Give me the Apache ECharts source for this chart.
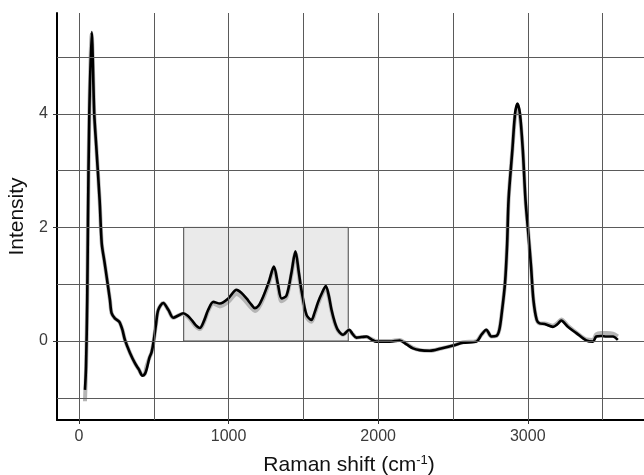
<!DOCTYPE html>
<html>
<head>
<meta charset="utf-8">
<script src="https://cdn.jsdelivr.net/npm/echarts@6/dist/echarts.min.js"></script>
<style>
html,body{margin:0;padding:0;background:#fff;}
#chart{width:644px;height:475px;}
</style>
</head>
<body>
<div id="chart"></div>
<script>
// Raman shift (cm-1)
var shiftX = [40, 47, 55, 60, 69, 85, 102, 115, 138, 152, 170, 185, 207, 218, 240, 269, 290, 307, 341, 374, 400, 425, 440, 452, 470, 485, 497, 515, 530, 563, 597, 630, 665, 697, 725, 753, 780, 808, 835, 864, 898, 942, 998, 1053, 1085, 1120, 1150, 1176, 1200, 1231, 1270, 1303, 1330, 1354, 1387, 1420, 1447, 1470, 1487, 1521, 1554, 1575, 1599, 1625, 1650, 1670, 1688, 1710, 1732, 1766, 1806, 1830, 1855, 1890, 1922, 1960, 1989, 2077, 2144, 2190, 2233, 2278, 2345, 2420, 2500, 2567, 2657, 2690, 2723, 2757, 2790, 2810, 2826, 2848, 2862, 2872, 2897, 2915, 2931, 2948, 2967, 2985, 3004, 3022, 3038, 3060, 3080, 3113, 3168, 3200, 3224, 3268, 3325, 3391, 3436, 3458, 3491, 3525, 3569, 3602];
// Intensity, black spectrum
var blackY = [-0.86, -0.45, 0.72, 2.1, 4.0, 5.44, 4.0, 3.45, 2.48, 1.72, 1.4, 1.13, 0.72, 0.49, 0.40, 0.34, 0.2, 0.02, -0.21, -0.39, -0.5, -0.61, -0.58, -0.5, -0.3, -0.2, -0.04, 0.3, 0.55, 0.67, 0.55, 0.41, 0.45, 0.49, 0.45, 0.37, 0.28, 0.23, 0.35, 0.55, 0.69, 0.66, 0.75, 0.90, 0.85, 0.75, 0.65, 0.58, 0.62, 0.78, 1.05, 1.31, 1.0, 0.75, 0.80, 1.2, 1.58, 1.2, 0.90, 0.46, 0.37, 0.5, 0.69, 0.85, 0.97, 0.8, 0.55, 0.33, 0.19, 0.11, 0.20, 0.12, 0.06, 0.07, 0.08, 0.02, -0.01, -0.01, 0.01, -0.06, -0.13, -0.16, -0.17, -0.13, -0.08, -0.03, -0.01, 0.11, 0.20, 0.08, 0.09, 0.2, 0.49, 1.02, 1.7, 2.5, 3.36, 4.0, 4.18, 4.0, 3.36, 2.48, 1.89, 1.31, 0.72, 0.37, 0.31, 0.30, 0.25, 0.3, 0.36, 0.25, 0.14, 0.01, -0.01, 0.08, 0.09, 0.08, 0.08, 0.02];
// Intensity, grey spectrum
var greyY = [-1.06, -0.5, 0.7, 2.1, 4.0, 5.4, 4.0, 3.45, 2.48, 1.72, 1.4, 1.13, 0.72, 0.49, 0.40, 0.34, 0.2, 0.02, -0.21, -0.39, -0.5, -0.6, -0.58, -0.44, -0.3, -0.2, -0.04, 0.3, 0.55, 0.67, 0.55, 0.41, 0.45, 0.48, 0.43, 0.35, 0.26, 0.21, 0.33, 0.53, 0.66, 0.61, 0.69, 0.83, 0.78, 0.68, 0.59, 0.53, 0.58, 0.74, 1.02, 1.28, 0.97, 0.7, 0.77, 1.17, 1.55, 1.17, 0.86, 0.42, 0.34, 0.47, 0.66, 0.82, 0.94, 0.78, 0.53, 0.31, 0.18, 0.11, 0.19, 0.12, 0.06, 0.07, 0.07, 0.03, 0.0, 0.0, 0.02, -0.05, -0.12, -0.16, -0.17, -0.13, -0.08, -0.02, 0.0, 0.11, 0.19, 0.08, 0.09, 0.2, 0.49, 1.02, 1.7, 2.5, 3.36, 3.95, 4.1, 3.95, 3.36, 2.48, 1.89, 1.31, 0.72, 0.37, 0.31, 0.31, 0.27, 0.32, 0.38, 0.27, 0.15, 0.03, 0.02, 0.12, 0.14, 0.14, 0.13, 0.08];
// tick labels and grid positions
var xTicks = [0, 1000, 2000, 3000];
var yTicks = [0, 2, 4];
var xGrid = [0, 500, 1000, 1500, 2000, 2500, 3000, 3500];
var yGrid = [-1, 0, 1, 2, 3, 4, 5];
// highlighted region [x0, x1, y0, y1]
var boxX = [700, 1800];
var boxY = [0, 2];

var xMin = -147, xMax = 3864, yMin = -1.39, yMax = 5.775;

function pairs(xs, ys) { return xs.map(function (x, i) { return [x, ys[i]]; }); }

var gridMarks = xGrid.map(function (v) { return { xAxis: v }; })
  .concat(yGrid.map(function (v) { return { yAxis: v }; }))
  .concat([{ yAxis: yMax }]);

var chart = echarts.init(document.getElementById('chart'));
chart.setOption({
  backgroundColor: '#ffffff',
  animation: false,
  grid: { left: 57, top: 13, width: 600, height: 407, outerBoundsMode: 'none', containLabel: false },
  xAxis: {
    type: 'value', min: xMin, max: xMax,
    name: 'Raman shift (cm{s|-1})',
    nameLocation: 'middle', nameGap: 34,
    nameTextStyle: {
      fontFamily: 'Liberation Sans', fontSize: 21, color: '#111', padding: [0, 16, 0, 0],
      rich: { s: { fontFamily: 'Liberation Sans', fontSize: 13, color: '#111', padding: [0, 0, 10, 0] } }
    },
    axisLine: { show: true, onZero: false, lineStyle: { color: '#000', width: 2 } },
    axisTick: { show: true, customValues: xTicks, length: 4, lineStyle: { color: '#333' } },
    axisLabel: { customValues: xTicks, formatter: function (v) { return String(v); }, fontFamily: 'Liberation Sans', fontSize: 16, color: '#3a3a3a', margin: 9 },
    splitLine: { show: false }
  },
  yAxis: {
    type: 'value', min: yMin, max: yMax,
    name: 'Intensity', nameLocation: 'middle', nameGap: 24,
    nameTextStyle: { fontFamily: 'Liberation Sans', fontSize: 21, color: '#111' },
    axisLine: { show: true, onZero: false, lineStyle: { color: '#000', width: 2 } },
    axisTick: { show: true, customValues: yTicks, length: 4, lineStyle: { color: '#333' } },
    axisLabel: { customValues: yTicks, formatter: function (v) { return String(v); }, fontFamily: 'Liberation Sans', fontSize: 16, color: '#3a3a3a', margin: 9 },
    splitLine: { show: false }
  },
  series: [
    {
      type: 'line', data: [], z: 1, silent: true,
      markArea: {
        silent: true,
        itemStyle: { color: 'rgba(150,150,150,0.2)', borderColor: '#444', borderWidth: 1 },
        data: [[{ xAxis: boxX[0], yAxis: boxY[0] }, { xAxis: boxX[1], yAxis: boxY[1] }]]
      },
      markLine: {
        silent: true, symbol: ['none', 'none'], animation: false,
        label: { show: false },
        lineStyle: { color: '#5a5a5a', width: 1, type: 'solid' },
        emphasis: { disabled: true },
        data: gridMarks
      }
    },
    {
      type: 'line', data: pairs(shiftX, greyY), z: 2, symbol: 'none', smooth: 0.3,
      lineStyle: { color: '#b5b5b5', width: 4 }
    },
    {
      type: 'line', data: pairs(shiftX, blackY), z: 3, symbol: 'none', smooth: 0.3,
      lineStyle: { color: '#000000', width: 2.6 }
    }
  ]
});
</script>
</body>
</html>
